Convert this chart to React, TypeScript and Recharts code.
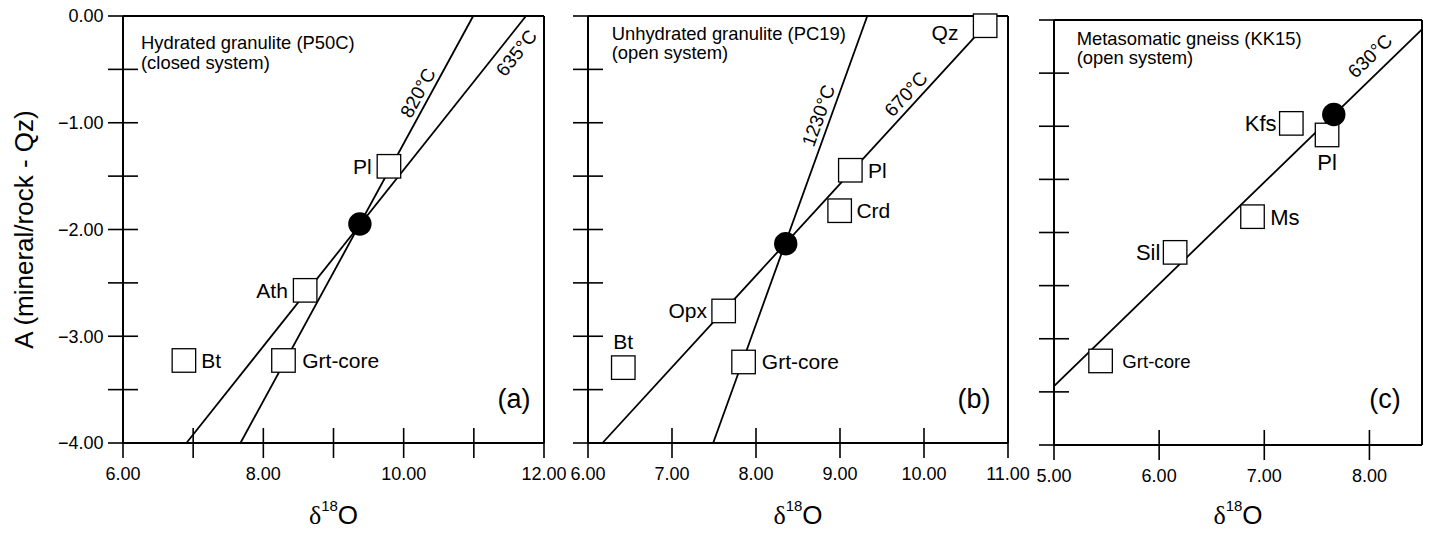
import React from 'react';
import { ScatterChart, Scatter, XAxis, YAxis, ReferenceLine } from 'recharts';

// ---------- shared ----------
const Y_TICKS = [0, -0.5, -1, -1.5, -2, -2.5, -3, -3.5, -4];
const Y_TICK_LABELS = ['0.00', '', '\u22121.00', '', '\u22122.00', '', '\u22123.00', '', '\u22124.00'];

// ---------- panel (a) Hydrated granulite (P50C) ----------
const A_MINERALS = ['Pl', 'Ath', 'Bt', 'Grt-core'];
const A_X = [9.79, 8.596, 6.868, 8.287];
const A_Y = [-1.408, -2.57, -3.227, -3.227];
const A_BULK_X = [9.376];
const A_BULK_Y = [-1.949];
const A_L820_X = [7.674, 10.991];
const A_L820_Y = [-4, 0];
const A_L635_X = [6.904, 11.743];
const A_L635_Y = [-4, 0];
const A_X_TICKS = [6, 7, 8, 9, 10, 11, 12];
const A_X_TICK_LABELS = ['6.00', '', '8.00', '', '10.00', '', '12.00'];

// ---------- panel (b) Unhydrated granulite (PC19) ----------
const B_MINERALS = ['Qz', 'Pl', 'Crd', 'Opx', 'Bt', 'Grt-core'];
const B_X = [10.728, 9.123, 8.996, 7.615, 6.42, 7.852];
const B_Y = [-0.091, -1.445, -1.824, -2.763, -3.294, -3.241];
const B_BULK_X = [8.354];
const B_BULK_Y = [-2.133];
const B_L1230_X = [7.49, 9.325];
const B_L1230_Y = [-4, 0];
const B_L670_X = [6.172, 10.728];
const B_L670_Y = [-4, -0.091];
const B_X_TICKS = [6, 7, 8, 9, 10, 11];
const B_X_TICK_LABELS = ['6.00', '7.00', '8.00', '9.00', '10.00', '11.00'];

// ---------- panel (c) Metasomatic gneiss (KK15) ----------
const C_MINERALS = ['Kfs', 'Pl', 'Ms', 'Sil', 'Grt-core'];
const C_X = [7.257, 7.597, 6.888, 6.152, 5.443];
const C_Y = [-0.973, -1.082, -1.851, -2.187, -3.209];
const C_BULK_X = [7.661];
const C_BULK_Y = [-0.889];
const C_L630_X = [5, 8.5];
const C_L630_Y = [-3.445, -0.0875];
const C_X_TICKS = [5, 6, 7, 8];
const C_X_TICK_LABELS = ['5.00', '6.00', '7.00', '8.00'];

// ---------- styles ----------
const FONT = '"Liberation Sans", Arial, Helvetica, sans-serif';
const SERIF = '"Liberation Serif", "Times New Roman", serif';
const SQUARE = 23.5;

type LabelStyle = { side: 'left' | 'right' | 'top' | 'bottom'; gap?: number; dy?: number; size?: number };

const A_LABELS: Record<string, LabelStyle> = {
  Pl: { side: 'left' },
  Ath: { side: 'left' },
  Bt: { side: 'right' },
  'Grt-core': { side: 'right', gap: 7 },
};
const B_LABELS: Record<string, LabelStyle> = {
  Qz: { side: 'left', gap: 15, dy: 7 },
  Pl: { side: 'right', gap: 6 },
  Crd: { side: 'right', gap: 5 },
  Opx: { side: 'left', gap: 5 },
  Bt: { side: 'top', gap: 6.5 },
  'Grt-core': { side: 'right', gap: 6.5 },
};
const C_LABELS: Record<string, LabelStyle> = {
  Kfs: { side: 'left', gap: 3, size: 22 },
  Pl: { side: 'bottom', gap: 8, size: 22 },
  Ms: { side: 'right', gap: 6, size: 22 },
  Sil: { side: 'left', gap: 3, size: 22 },
  'Grt-core': { side: 'right', gap: 10, size: 18.6 },
};

function buildPoints(names: string[], xs: number[], ys: number[]) {
  return names.map((name, i) => ({ name, x: xs[i], y: ys[i] }));
}
function buildXY(xs: number[], ys: number[]) {
  return xs.map((x, i) => ({ x, y: ys[i] }));
}

function makeSquareShape(styles: Record<string, LabelStyle>, defaultSize: number) {
  return (props: any) => {
    const { cx, cy, payload } = props;
    const st = styles[payload.name] || { side: 'right' };
    const half = SQUARE / 2;
    const gap = st.gap ?? 5.5;
    const size = st.size ?? defaultSize;
    const cap = 0.716 * size;
    let tx = cx;
    let ty = cy + 0.358 * size + (st.dy ?? 0);
    let anchor: 'start' | 'middle' | 'end' = 'middle';
    if (st.side === 'left') {
      tx = cx - half - gap;
      anchor = 'end';
    } else if (st.side === 'right') {
      tx = cx + half + gap;
      anchor = 'start';
    } else if (st.side === 'top') {
      ty = cy - half - gap;
    } else {
      ty = cy + half + gap + cap;
    }
    return (
      <g>
        <rect x={cx - half} y={cy - half} width={SQUARE} height={SQUARE} fill="#fff" stroke="#000" strokeWidth={1.3} />
        <text x={tx} y={ty} textAnchor={anchor} fontSize={size} fontFamily={FONT} fill="#000">
          {payload.name}
        </text>
      </g>
    );
  };
}

const bulkShape = (props: any) => <circle cx={props.cx} cy={props.cy} r={11.7} fill="#000" />;
const noShape = () => <g />;

function makeLine(label: string, t: number, offset: number) {
  return (props: any) => {
    const pts = (props.points || []).map((p: any) => ({ x: p.x ?? p.cx, y: p.y ?? p.cy }));
    if (pts.length < 2) return <g />;
    const a = pts[0];
    const b = pts[pts.length - 1];
    const dx = b.x - a.x;
    const dy = b.y - a.y;
    const len = Math.hypot(dx, dy);
    const ux = dx / len;
    const uy = dy / len;
    const nx = -uy;
    const ny = ux;
    const px = a.x + dx * t + nx * offset;
    const py = a.y + dy * t + ny * offset;
    const ang = (Math.atan2(dy, dx) * 180) / Math.PI;
    return (
      <g>
        <line x1={a.x} y1={a.y} x2={b.x} y2={b.y} stroke="#000" strokeWidth={1.8} />
        <text
          x={px}
          y={py}
          transform={`rotate(${ang} ${px} ${py})`}
          textAnchor="middle"
          dominantBaseline="central"
          fontSize={19}
          fontFamily={FONT}
          fill="#000"
        >
          {label}
        </text>
      </g>
    );
  };
}

function makeYTick(showLabels: boolean) {
  return (props: any) => {
    const { x, y, payload } = props;
    const idx = Y_TICKS.findIndex((v) => Math.abs(v - payload.value) < 1e-6);
    const lbl = showLabels && idx >= 0 ? Y_TICK_LABELS[idx] : '';
    return (
      <g>
        <line x1={x - 15} x2={x + 15} y1={y} y2={y} stroke="#000" strokeWidth={1.6} />
        {lbl ? (
          <text x={x - 19.5} y={y + 6.4} textAnchor="end" fontSize={18} fontFamily={FONT} fill="#000">
            {lbl}
          </text>
        ) : null}
      </g>
    );
  };
}

function makeXTick(ticks: number[], labels: string[]) {
  return (props: any) => {
    const { x, y, payload } = props;
    const idx = ticks.findIndex((v) => Math.abs(v - payload.value) < 1e-6);
    const lbl = idx >= 0 ? labels[idx] : '';
    return (
      <g>
        <line x1={x} x2={x} y1={y - 15} y2={y + 15} stroke="#000" strokeWidth={1.6} />
        {lbl ? (
          <text x={x} y={y + 36.5} textAnchor="middle" fontSize={18} fontFamily={FONT} fill="#000">
            {lbl}
          </text>
        ) : null}
      </g>
    );
  };
}

const XLabel = (props: any) => {
  const vb = props.viewBox || {};
  const cx = vb.x + vb.width / 2;
  const base = 524;
  return (
    <text x={cx} y={base} textAnchor="middle" fill="#000">
      <tspan fontFamily={SERIF} fontSize={26}>{'\u03b4'}</tspan>
      <tspan fontFamily={FONT} fontSize={15} dy={-13}>18</tspan>
      <tspan fontFamily={FONT} fontSize={26} dy={13}>O</tspan>
    </text>
  );
};

type PanelProps = {
  left: number;
  width: number;
  margin: { top: number; right: number; bottom: number; left: number };
  yAxisWidth: number;
  xAxisHeight: number;
  xDomain: [number, number];
  xTicks: number[];
  xTickLabels: string[];
  showYLabels: boolean;
  children: React.ReactNode;
};

function Panel(p: PanelProps) {
  return (
    <div style={{ position: 'absolute', left: p.left, top: 0 }}>
      <ScatterChart width={p.width} height={533} margin={p.margin}>
        <XAxis
          type="number"
          dataKey="x"
          domain={p.xDomain}
          ticks={p.xTicks}
          interval={0}
          tickSize={0}
          tickMargin={0}
          tickLine={false}
          tick={makeXTick(p.xTicks, p.xTickLabels)}
          axisLine={{ stroke: '#000', strokeWidth: 2 }}
          height={p.xAxisHeight}
          label={{ content: XLabel }}
        />
        <YAxis
          type="number"
          dataKey="y"
          domain={[-4, 0]}
          ticks={Y_TICKS}
          interval={0}
          tickSize={0}
          tickMargin={0}
          tickLine={false}
          tick={makeYTick(p.showYLabels)}
          axisLine={{ stroke: '#000', strokeWidth: 2 }}
          width={p.yAxisWidth}
        />
        <ReferenceLine y={0} stroke="#000" strokeWidth={2} />
        <ReferenceLine x={p.xDomain[1]} stroke="#000" strokeWidth={2} />
        {p.children}
      </ScatterChart>
    </div>
  );
}

export default function App() {
  return (
    <div style={{ position: 'absolute', left: 0, top: 0, width: 1432, height: 533, background: '#fff', overflow: 'hidden' }}>
      <Panel
        left={0}
        width={590}
        margin={{ top: 16, right: 46, bottom: 0, left: 0 }}
        yAxisWidth={123}
        xAxisHeight={90}
        xDomain={[6, 12]}
        xTicks={A_X_TICKS}
        xTickLabels={A_X_TICK_LABELS}
        showYLabels
      >
        <Scatter data={buildXY(A_L820_X, A_L820_Y)} line={makeLine('820\u00b0C', 0.807, -11.8)} shape={noShape} isAnimationActive={false} />
        <Scatter data={buildXY(A_L635_X, A_L635_Y)} line={makeLine('635\u00b0C', 0.936, 15.6)} shape={noShape} isAnimationActive={false} />
        <Scatter data={buildPoints(A_MINERALS, A_X, A_Y)} shape={makeSquareShape(A_LABELS, 21)} isAnimationActive={false} />
        <Scatter data={buildXY(A_BULK_X, A_BULK_Y)} shape={bulkShape} isAnimationActive={false} />
      </Panel>
      <Panel
        left={540}
        width={500}
        margin={{ top: 16, right: 32, bottom: 0, left: 0 }}
        yAxisWidth={48}
        xAxisHeight={90}
        xDomain={[6, 11]}
        xTicks={B_X_TICKS}
        xTickLabels={B_X_TICK_LABELS}
        showYLabels={false}
      >
        <Scatter data={buildXY(B_L1230_X, B_L1230_Y)} line={makeLine('1230\u00b0C', 0.757, -12.1)} shape={noShape} isAnimationActive={false} />
        <Scatter data={buildXY(B_L670_X, B_L670_Y)} line={makeLine('670\u00b0C', 0.8165, -12.1)} shape={noShape} isAnimationActive={false} />
        <Scatter data={buildPoints(B_MINERALS, B_X, B_Y)} shape={makeSquareShape(B_LABELS, 21)} isAnimationActive={false} />
        <Scatter data={buildXY(B_BULK_X, B_BULK_Y)} shape={bulkShape} isAnimationActive={false} />
      </Panel>
      <Panel
        left={1000}
        width={432}
        margin={{ top: 20, right: 10, bottom: 0, left: 0 }}
        yAxisWidth={54}
        xAxisHeight={88}
        xDomain={[5, 8.5]}
        xTicks={C_X_TICKS}
        xTickLabels={C_X_TICK_LABELS}
        showYLabels={false}
      >
        <Scatter data={buildXY(C_L630_X, C_L630_Y)} line={makeLine('630\u00b0C', 0.891, -16.9)} shape={noShape} isAnimationActive={false} />
        <Scatter data={buildPoints(C_MINERALS, C_X, C_Y)} shape={makeSquareShape(C_LABELS, 22)} isAnimationActive={false} />
        <Scatter data={buildXY(C_BULK_X, C_BULK_Y)} shape={bulkShape} isAnimationActive={false} />
      </Panel>
      <svg width={1432} height={533} style={{ position: 'absolute', left: 0, top: 0, pointerEvents: 'none' }}>
        <g fontFamily={FONT} fill="#000">
          <text x={24} y={229.5} fontSize={26} textAnchor="middle" dominantBaseline="central" transform="rotate(-90 24 229.5)">
            A (mineral/rock - Qz)
          </text>
          <text x={141} y={49.3} fontSize={18.4}>Hydrated granulite (P50C)</text>
          <text x={141} y={68.5} fontSize={18.4}>(closed system)</text>
          <text x={611.7} y={40} fontSize={18.4}>Unhydrated granulite (PC19)</text>
          <text x={611.7} y={59.3} fontSize={18.4}>(open system)</text>
          <text x={1076.7} y={45} fontSize={18.4}>Metasomatic gneiss (KK15)</text>
          <text x={1076.7} y={63.5} fontSize={18.4}>(open system)</text>
          <text x={514} y={407.5} fontSize={27} textAnchor="middle">(a)</text>
          <text x={974} y={407.5} fontSize={27} textAnchor="middle">(b)</text>
          <text x={1385} y={407.5} fontSize={27} textAnchor="middle">(c)</text>
        </g>
      </svg>
    </div>
  );
}
